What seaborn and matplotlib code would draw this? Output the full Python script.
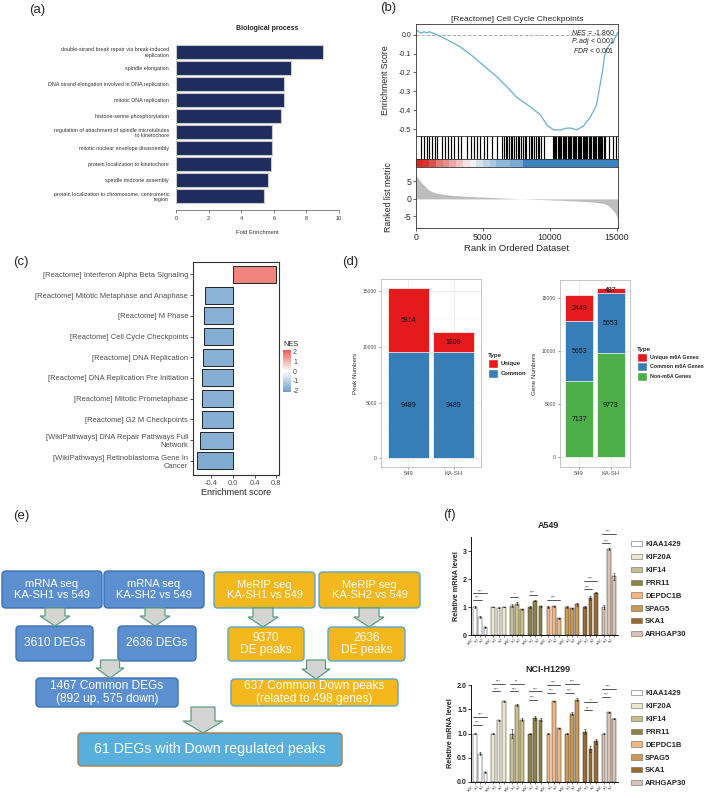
import numpy as np
import pandas as pd
import matplotlib
matplotlib.use("Agg")
import matplotlib.pyplot as plt
import seaborn as sns
from matplotlib.patches import FancyBboxPatch, Polygon, Patch
from matplotlib.colors import LinearSegmentedColormap, Normalize
from matplotlib.cm import ScalarMappable
from matplotlib.ticker import MultipleLocator, FormatStrFormatter

# ------------------------------------------------------------------ data
bp_terms = ["double-strand break repair via break-induced\nreplication",
            "spindle elongation",
            "DNA strand elongation involved in DNA replication",
            "mitotic DNA replication",
            "histone-serine phosphorylation",
            "regulation of attachment of spindle microtubules\nto kinetochore",
            "mitotic nuclear envelope disassembly",
            "protein localization to kinetochore",
            "spindle midzone assembly",
            "protein localization to chromosome, centromeric\nregion"]
bp_fold = [9.0, 7.05, 6.65, 6.6, 6.45, 5.9, 5.9, 5.85, 5.65, 5.4]

gsea_title = "[Reactome] Cell Cycle Checkpoints"
es_rank = [0, 200, 400, 600, 800, 1000, 1300, 1550, 2300, 3300, 4300, 5000, 6000, 6800,
           7500, 8500, 9300, 9800, 10300, 10800, 11300, 11600, 12000, 12500, 13000, 13300,
           13500, 13650, 13800, 13950, 14100, 14300, 14500, 14700, 14850, 15000, 15100]
es_score = [0.028, 0.016, 0.008, 0.016, 0.010, 0.016, 0.008, 0.0, -0.025, -0.064, -0.117,
            -0.16, -0.22, -0.276, -0.33, -0.38, -0.425, -0.48, -0.505, -0.505, -0.495,
            -0.495, -0.505, -0.485, -0.44, -0.40, -0.37, -0.31, -0.25, -0.19, -0.11, -0.07,
            -0.05, -0.045, -0.02, 0.0, 0.012]
hit_ranks = [350, 600, 800, 970, 1220, 1390, 1590, 1970, 2170, 2390, 2640, 2840, 3140, 3340,
             3830, 4090, 4330, 4580, 4780, 5080, 5330, 5700, 6070, 6450, 6600, 6700, 6820,
             6950, 7080, 7190, 7320, 7450, 7595, 7700, 7840, 8020, 8120, 8220, 8420, 8590,
             8700, 8840, 8950, 9090, 9200, 9340, 9590, 10210, 10300, 10410, 10500, 10580,
             10680, 10760, 10860, 10960, 11050, 11150, 11250, 11330, 11420, 11500, 11600,
             11700, 11800, 11900, 11990, 12080, 12170, 12250, 12350, 12450, 12550, 12650,
             12730, 12820, 12910, 13000, 13100, 13200, 13300, 13400, 13480, 13570, 13660,
             13750, 13850, 13940, 14040, 14140, 14440, 14690, 14950]
strip_edges = [0, 500, 1000, 1500, 2000, 2500, 3000, 3500, 4000, 4500, 5000, 5500, 6000,
               7000, 8000, 15100]
strip_vals = [1.0, 0.95, 0.8, 0.6, 0.5, 0.38, 0.25, 0.1, -0.05, -0.18, -0.3, -0.4, -0.55,
              -0.65, -1.0]
metric_rank = [0, 100, 400, 800, 1050, 1550, 2550, 4000, 5800, 7800, 9500, 10800, 12000,
               13300, 14000, 14300, 14600, 14900, 15000, 15100]
metric_val = [6.6, 6.2, 4.7, 3.1, 2.3, 1.6, 1.05, 0.67, 0.4, 0.0, -0.2, -0.4, -0.6, -0.9,
              -1.3, -1.7, -2.7, -4.1, -5.0, -6.1]
gsea_stats = [r"$\it{NES}$ = -1.860", r"$\it{P.adj}$ < 0.001", r"$\it{FDR}$ < 0.001"]

c_terms = ["[Reactome] Interferon Alpha Beta Signaling",
           "[Reactome] Mitotic Metaphase and Anaphase",
           "[Reactome] M Phase",
           "[Reactome] Cell Cycle Checkpoints",
           "[Reactome] DNA Replication",
           "[Reactome] DNA Replication Pre Initiation",
           "[Reactome] Mitotic Prometaphase",
           "[Reactome] G2 M Checkpoints",
           "[WikiPathways] DNA Repair Pathways Full\nNetwork",
           "[WikiPathways] Retinoblastoma Gene In\nCancer"]
c_score = [0.79, -0.50, -0.53, -0.53, -0.54, -0.56, -0.56, -0.57, -0.59, -0.66]
c_nes = [1.65, -1.75, -1.8, -1.86, -1.82, -1.85, -1.78, -1.83, -1.8, -1.9]

d_cells = ["549", "KA-SH"]
peak_common = [9489, 9489]
peak_unique = [5814, 1809]
gene_non = [7137, 9773]
gene_common = [5653, 5653]
gene_unique = [2449, 487]

flow_top = ["mRNA seq\nKA-SH1 vs 549", "mRNA seq\nKA-SH2 vs 549",
            "MeRIP seq\nKA-SH1 vs 549", "MeRIP seq\nKA-SH2 vs 549"]
flow_mid = ["3610 DEGs", "2636 DEGs", "9370\nDE peaks", "2636\nDE peaks"]
flow_common = ["1467 Common DEGs\n(892 up, 575 down)", "637 Common Down peaks\n(related to 498 genes)"]
flow_final = "61 DEGs with Down regulated peaks"

f_genes = ["KIAA1429", "KIF20A", "KIF14", "PRR11", "DEPDC1B", "SPAG5", "SKA1", "ARHGAP30"]
f_conds = ["shNC", "sh1", "sh2"]
a549_vals = [[1.0, 0.65, 0.28], [1.0, 0.98, 1.0], [1.05, 1.12, 0.92], [1.0, 1.23, 1.03],
             [1.0, 1.02, 0.6], [0.99, 0.95, 1.1], [1.0, 1.33, 1.51], [1.0, 3.06, 2.1]]
a549_err = [[0.02, 0.03, 0.02], [0.01, 0.01, 0.01], [0.05, 0.06, 0.01], [0.02, 0.03, 0.02],
            [0.02, 0.02, 0.02], [0.04, 0.03, 0.05], [0.02, 0.08, 0.02], [0.06, 0.03, 0.12]]
h1299_vals = [[1.0, 0.58, 0.2], [1.0, 1.27, 1.66], [1.0, 1.58, 1.28], [1.0, 1.32, 1.28],
              [1.0, 1.66, 1.11], [1.0, 1.41, 1.70], [1.04, 0.68, 0.84], [1.0, 1.44, 1.30]]
h1299_err = [[0.01, 0.03, 0.01], [0.02, 0.01, 0.01], [0.1, 0.02, 0.03], [0.01, 0.05, 0.03],
             [0.01, 0.02, 0.01], [0.02, 0.03, 0.04], [0.05, 0.07, 0.05], [0.01, 0.01, 0.01]]
a549_sig = [(0, 0, 1, 1.26, "***"), (0, 0, 2, 1.49, "***"), (2, 0, 1, 1.35, "*"),
            (3, 0, 1, 1.43, "***"), (4, 0, 2, 1.25, "***"), (6, 0, 1, 1.63, "***"),
            (6, 0, 2, 1.93, "***"), (7, 0, 1, 3.27, "***"), (7, 0, 2, 3.6, "***")]
h1299_sig = [(0, 0, 1, 1.18, "***"), (0, 0, 2, 1.34, "***"), (1, 0, 1, 1.87, "***"),
             (1, 0, 2, 2.03, "***"), (2, 0, 1, 1.87, "***"), (2, 0, 2, 2.03, "**"),
             (3, 0, 1, 1.70, "***"), (3, 0, 2, 1.87, "***"), (4, 0, 1, 1.84, "***"),
             (4, 0, 2, 2.0, "***"), (5, 0, 1, 1.84, "***"), (5, 0, 2, 2.02, "***"),
             (6, 0, 1, 1.48, "**"), (6, 0, 2, 1.64, "*"), (7, 0, 1, 1.75, "***"),
             (7, 0, 2, 1.92, "***")]

# ------------------------------------------------------------------ style
sns.set_style("ticks")
plt.rcParams['font.family'] = ['Liberation Sans', 'DejaVu Sans']
plt.rcParams['mathtext.fontset'] = 'custom'
plt.rcParams['mathtext.it'] = 'Liberation Sans:italic'
plt.rcParams['mathtext.rm'] = 'Liberation Sans'
plt.rcParams['axes.linewidth'] = 0.6
plt.rcParams['axes.unicode_minus'] = False

W, H = 709, 798
fig = plt.figure(figsize=(W / 100, H / 100), dpi=100)


def pa(x0, y0, x1, y1):
    return fig.add_axes([x0 / W, 1 - y1 / H, (x1 - x0) / W, (y1 - y0) / H])


def ftext(x, y, s, **kw):
    return fig.text(x / W, 1 - y / H, s, **kw)


for lab, (x, y) in zip(["(a)", "(b)", "(c)", "(d)", "(e)", "(f)"],
                       [(29, 10), (380, 8), (13, 262), (342, 262), (13, 516), (443, 515)]):
    ftext(x, y, lab, fontsize=9.5, ha='left', va='center')

# ------------------------------------------------------------------ (a)
ax = pa(176, 43.8, 339, 204.2)
sns.barplot(x=bp_fold, y=bp_terms, orient='h', color='#1f2c5e', edgecolor='#c8c8c8',
            linewidth=0.8, width=0.85, saturation=1, ax=ax)
ax.set_xlim(0, 10)
ax.set_ylim(9.5, -0.5)
for s in ['left', 'top', 'right']:
    ax.spines[s].set_visible(False)
ax.spines['bottom'].set_position(('outward', 4.3))
ax.spines['bottom'].set_bounds(0, 10)
ax.spines['bottom'].set_color('#555555')
ax.spines['bottom'].set_linewidth(0.5)
ax.set_xticks([0, 2, 4, 6, 8, 10])
ax.tick_params(axis='x', labelsize=4, length=2.5, width=0.5, color='#555555', pad=2,
               labelcolor='#333333')
ax.tick_params(axis='y', length=0, labelsize=3.9, pad=5, labelcolor='#333333')
ax.set_xlabel("Fold Enrichment", fontsize=4.2, labelpad=6, color='#333333')
ftext(267, 29, "Biological process", fontsize=5, fontweight='bold', ha='center',
      va='center', color='#222222')

# ------------------------------------------------------------------ (b)
frame_c = '#333333'
ax_es = pa(416, 24, 618, 136)
sns.lineplot(x=es_rank, y=es_score, sort=False, color='#6aaed6', linewidth=0.9, ax=ax_es)
ax_es.axhline(0, color='#b0b0b0', ls='--', lw=0.7, zorder=0)
ax_es.set_xlim(0, 15100)
ax_es.set_ylim(-0.537, 0.057)
ax_es.set_yticks([0, -0.1, -0.2, -0.3, -0.4, -0.5])
ax_es.yaxis.set_major_formatter(FormatStrFormatter('%.1f'))
ax_es.set_xticks([])
ax_es.tick_params(axis='y', labelsize=5, length=2, width=0.5, pad=1.5)
ax_es.set_ylabel("Enrichment Score", fontsize=6.3)
ax_es.yaxis.set_label_coords(-0.13, 0.5)
ax_es.set_title(gsea_title, fontsize=6, pad=2.5)
for i, s in enumerate(gsea_stats):
    ax_es.text(0.985, 0.925 - i * 0.08, s, transform=ax_es.transAxes, ha='right',
               va='center', fontsize=5, color='#222222')

ax_bc = pa(416, 136, 618, 159)
ax_bc.vlines(hit_ranks, 0, 1, color='black', lw=0.85)
ax_bc.set_xlim(0, 15100)
ax_bc.set_ylim(0, 1)
ax_bc.set_xticks([])
ax_bc.set_yticks([])

ax_st = pa(416, 159, 618, 167)
strip_cmap = LinearSegmentedColormap.from_list('strip', ['#3a83c0', '#f7f7f7', '#d42a22'])
ax_st.pcolormesh(strip_edges, [0, 1], [strip_vals], cmap=strip_cmap, vmin=-1, vmax=1)
ax_st.set_xlim(0, 15100)
ax_st.set_xticks([])
ax_st.set_yticks([])

ax_rk = pa(416, 167, 618, 228)
ax_rk.fill_between(metric_rank, metric_val, 0, color='#bdbdbd', lw=0)
ax_rk.set_xlim(0, 15100)
ax_rk.set_ylim(-8.3, 9.1)
ax_rk.set_yticks([5, 0, -5])
ax_rk.set_xticks([0, 5000, 10000, 15000])
ax_rk.tick_params(labelsize=6.3, length=2, width=0.5, pad=1.5)
ax_rk.set_xlabel("Rank in Ordered Dataset", fontsize=6.8, labelpad=1.5)
ax_rk.set_ylabel("Ranked list metric", fontsize=6.3)
ax_rk.yaxis.set_label_coords(-0.115, 0.5)
for a in [ax_es, ax_bc, ax_st, ax_rk]:
    for s in a.spines.values():
        s.set_color(frame_c)
        s.set_linewidth(0.6)

# ------------------------------------------------------------------ (c)
nes_cmap = LinearSegmentedColormap.from_list('nes', ['#6d9fcb', '#ffffff', '#ec5d55'])
nes_norm = Normalize(-2.2, 2.2)
ax = pa(193, 262, 279, 475)
pal = {t: nes_cmap(nes_norm(v)) for t, v in zip(c_terms, c_nes)}
sns.barplot(x=c_score, y=c_terms, hue=c_terms, palette=pal, legend=False, orient='h',
            edgecolor='#222222', linewidth=0.7, width=0.82, saturation=1, ax=ax)
ax.set_xlim(-0.727, 0.848)
ax.set_ylim(9.69, -0.6)
ax.set_xticks([-0.4, 0.0, 0.4, 0.8])
ax.set_xticklabels(["-0.4", "0.0", "0.4", "0.8"])
ax.tick_params(labelsize=5.4, length=2, width=0.6, pad=1.5, labelcolor='#4d4d4d',
               color='#333333')
ax.set_xlabel("Enrichment score", fontsize=6.5, labelpad=1)
ax.set_ylabel("")
for s in ax.spines.values():
    s.set_color('#333333')
    s.set_linewidth(0.8)
cax = pa(283, 350, 291, 392)
sm = ScalarMappable(norm=Normalize(-2.2, 2.2), cmap=nes_cmap)
cb = fig.colorbar(sm, cax=cax)
cb.set_ticks([-2, -1, 0, 1, 2])
cb.outline.set_visible(False)
cax.tick_params(labelsize=5, length=0, pad=1.5, labelcolor='#4d4d4d')
ftext(283, 345, "NES", fontsize=5.3, ha='left', va='center', color='#222222')

# ------------------------------------------------------------------ (d)
set1_red, set1_blue, set1_green = '#e41a1c', '#377eb8', '#4daf4a'


def gg_axes(a, ylim):
    a.set_xlim(-0.6, 1.6)
    a.set_ylim(*ylim)
    a.set_axisbelow(True)
    a.set_yticks([0, 5000, 10000, 15000])
    a.yaxis.set_minor_locator(MultipleLocator(2500))
    a.grid(True, which='major', color='#e6e6e6', lw=0.5)
    a.grid(True, which='minor', axis='y', color='#f0f0f0', lw=0.3)
    a.tick_params(which='major', labelsize=3.6, length=1.5, width=0.4, pad=1.5,
                  labelcolor='#4d4d4d', color='#555555')
    a.tick_params(which='minor', length=0)
    a.tick_params(axis='x', labelsize=4.2)
    for s in a.spines.values():
        s.set_color('#bdbdbd')
        s.set_linewidth(0.6)
    a.set_xlabel("")


ax1 = pa(381, 279, 481, 467)
peak_tot = [c + u for c, u in zip(peak_common, peak_unique)]
sns.barplot(x=d_cells, y=peak_tot, color=set1_red, edgecolor='white', linewidth=0.5,
            width=0.9, saturation=1, ax=ax1)
sns.barplot(x=d_cells, y=peak_common, color=set1_blue, edgecolor='white', linewidth=0.5,
            width=0.9, saturation=1, ax=ax1)
gg_axes(ax1, (-765, 16068))
ax1.set_ylabel("Peak Numbers", fontsize=4.5, color='#333333', labelpad=3)
for i in range(2):
    ax1.text(i, peak_common[i] / 2, str(peak_common[i]), ha='center', va='center',
             fontsize=5, color='#111111')
    ax1.text(i, peak_common[i] + peak_unique[i] / 2, str(peak_unique[i]), ha='center',
             va='center', fontsize=5, color='#111111')
fig.legend(handles=[Patch(facecolor=set1_red, edgecolor='white'),
                    Patch(facecolor=set1_blue, edgecolor='white')],
           labels=["Unique", "Common"], title="Type", loc='upper left',
           bbox_to_anchor=(488 / W, 1 - 353 / H), frameon=False,
           prop={'size': 4.2, 'weight': 'bold'}, title_fontproperties={'size': 4.5, 'weight': 'bold'},
           handlelength=1.7, handleheight=2.0, labelspacing=0.15, handletextpad=0.5,
           borderpad=0, borderaxespad=0, alignment='left')

ax2 = pa(560, 280, 630, 467)
g_tot3 = [a + b + c for a, b, c in zip(gene_non, gene_common, gene_unique)]
g_tot2 = [a + b for a, b in zip(gene_non, gene_common)]
sns.barplot(x=d_cells, y=g_tot3, color=set1_red, edgecolor='white', linewidth=0.5,
            width=0.9, saturation=1, ax=ax2)
sns.barplot(x=d_cells, y=g_tot2, color=set1_blue, edgecolor='white', linewidth=0.5,
            width=0.9, saturation=1, ax=ax2)
sns.barplot(x=d_cells, y=gene_non, color=set1_green, edgecolor='white', linewidth=0.5,
            width=0.9, saturation=1, ax=ax2)
gg_axes(ax2, (-943, 16698))
ax2.set_ylabel("Gene Numbers", fontsize=4.5, color='#333333', labelpad=3)
for i in range(2):
    ax2.text(i, gene_non[i] / 2, str(gene_non[i]), ha='center', va='center', fontsize=5,
             color='#111111')
    ax2.text(i, gene_non[i] + gene_common[i] / 2, str(gene_common[i]), ha='center',
             va='center', fontsize=5, color='#111111')
    ax2.text(i, g_tot2[i] + gene_unique[i] / 2, str(gene_unique[i]), ha='center',
             va='center', fontsize=5, color='#111111')
fig.legend(handles=[Patch(facecolor=set1_red, edgecolor='white'),
                    Patch(facecolor=set1_blue, edgecolor='white'),
                    Patch(facecolor=set1_green, edgecolor='white')],
           labels=["Unique m6A Genes", "Common m6A Genes", "Non-m6A Genes"], title="Type",
           loc='upper left', bbox_to_anchor=(637 / W, 1 - 347 / H), frameon=False,
           prop={'size': 3.8, 'weight': 'bold'}, title_fontproperties={'size': 4.5, 'weight': 'bold'},
           handlelength=1.9, handleheight=2.2, labelspacing=0.15, handletextpad=0.5,
           borderpad=0, borderaxespad=0, alignment='left')

# ------------------------------------------------------------------ (e)
axe = pa(0, 560, 430, 775)
axe.set_xlim(0, 430)
axe.set_ylim(775, 560)
axe.axis('off')
blue_f, blue_e = '#5b8fd0', '#3f70b5'
orng_f, orng_e = '#f4b71c', '#55a7d6'
boxes = [
    (2, 571, 102, 608, flow_top[0], blue_f, blue_e, 8.0),
    (104, 571, 204, 608, flow_top[1], blue_f, blue_e, 8.0),
    (214, 572, 315, 608, flow_top[2], orng_f, orng_e, 8.0),
    (319, 572, 420, 608, flow_top[3], orng_f, orng_e, 8.0),
    (16, 626, 93, 661, flow_mid[0], blue_f, blue_e, 8.6),
    (118, 626, 196, 661, flow_mid[1], blue_f, blue_e, 8.6),
    (228, 627, 304, 661, flow_mid[2], orng_f, orng_e, 8.6),
    (328, 627, 405, 661, flow_mid[3], orng_f, orng_e, 8.6),
    (36, 678, 178, 707, flow_common[0], blue_f, blue_e, 8.6),
    (231, 679, 398, 706, flow_common[1], orng_f, orng_e, 8.6),
    (78, 733, 342, 766, flow_final, '#58afdd', '#a57b52', 10.2),
]
for x0, y0, x1, y1, txt, fc, ec, fs in boxes:
    axe.add_patch(FancyBboxPatch((x0 + 4, y0 + 4), x1 - x0 - 8, y1 - y0 - 8,
                                 boxstyle="round,pad=4", facecolor=fc, edgecolor=ec, lw=1.0))
    axe.text((x0 + x1) / 2, (y0 + y1) / 2, txt, ha='center', va='center', fontsize=fs,
             color='white', linespacing=1.05)

arrows = [(55, 608, 626, 30, 20, 10), (155, 608, 626, 30, 20, 10),
          (263, 608, 627, 30, 20, 10), (369, 608, 627, 30, 20, 10),
          (110, 660, 678, 28, 19, 10), (316, 660, 679, 28, 19, 10),
          (203, 707, 733, 40, 24, 12)]
for cx, y0, y1, hw, sw, hl in arrows:
    verts = [(cx - sw / 2, y0), (cx + sw / 2, y0), (cx + sw / 2, y1 - hl),
             (cx + hw / 2, y1 - hl), (cx, y1), (cx - hw / 2, y1 - hl), (cx - sw / 2, y1 - hl)]
    axe.add_patch(Polygon(verts, closed=True, facecolor='#d4d4d4', edgecolor='#5c9e7c', lw=0.9))

# ------------------------------------------------------------------ (f)
gene_colors = ['#ffffff', '#ece7cf', '#c9bf8c', '#8e8246', '#f4b57e', '#c99a57', '#9a6a2e',
               '#d9c3b4']


def qpcr(a, vals, errs, sigs, ylim, yticks, fmt):
    df = pd.DataFrame([(g, c, vals[i][j]) for i, g in enumerate(f_genes)
                       for j, c in enumerate(f_conds)], columns=['gene', 'cond', 'val'])
    sns.barplot(data=df, x='gene', y='val', hue='cond', order=f_genes, hue_order=f_conds,
                width=0.86, gap=0.28, edgecolor='#333333', linewidth=0.35, errorbar=None,
                legend=False, saturation=1, ax=a)
    bar_conts = list(a.containers)
    centers = []
    for j, cont in enumerate(bar_conts):
        cs = []
        for i, bar in enumerate(cont.patches):
            bar.set_facecolor(gene_colors[i])
            cs.append(bar.get_x() + bar.get_width() / 2)
        centers.append(cs)
    for j in range(len(f_conds)):
        cs = centers[j]
        a.errorbar(cs, [vals[i][j] for i in range(len(f_genes))],
                   yerr=[errs[i][j] for i in range(len(f_genes))], fmt='none',
                   ecolor='#222222', elinewidth=0.4, capsize=0.8, capthick=0.4)
        a.scatter(cs, [vals[i][j] for i in range(len(f_genes))], s=0.6, color='#222222',
                  zorder=5, lw=0)
    for g, c1, c2, y, lab in sigs:
        x1, x2 = centers[c1][g] - 0.08, centers[c2][g] + 0.08
        a.plot([x1, x2], [y, y], color='#111111', lw=0.5, clip_on=False)
        a.text((x1 + x2) / 2, y, lab, ha='center', va='bottom', fontsize=3, clip_on=False,
               linespacing=0.8)
    a.set_xlim(-0.5, 7.5)
    a.set_ylim(*ylim)
    a.set_yticks(yticks)
    a.yaxis.set_major_formatter(FormatStrFormatter(fmt))
    allc = [centers[j][i] for i in range(len(f_genes)) for j in range(3)]
    a.set_xticks(allc)
    a.set_xticklabels([f_conds[j] for i in range(len(f_genes)) for j in range(3)],
                      rotation=45, ha='right', fontsize=2.2)
    a.tick_params(axis='x', length=1.5, width=0.4, pad=0.5)
    a.tick_params(axis='y', labelsize=5, length=2, width=0.6, pad=1)
    for lbl in a.get_yticklabels():
        lbl.set_fontweight('bold')
    for s in ['top', 'right']:
        a.spines[s].set_visible(False)
    for s in ['left', 'bottom']:
        a.spines[s].set_color('#111111')
        a.spines[s].set_linewidth(0.7)
    a.set_xlabel("")
    a.set_ylabel("Relative mRNA level", fontsize=5.2, fontweight='bold', labelpad=2)


axf1 = pa(471, 537, 618, 635)
qpcr(axf1, a549_vals, a549_err, a549_sig, (0, 3.5), [0, 1, 2, 3], '%d')
ftext(548, 525, "A549", fontsize=6.5, fontweight='bold', ha='center', va='center')
axf2 = pa(471, 685, 618, 782)
qpcr(axf2, h1299_vals, h1299_err, h1299_sig, (0, 2.0), [0, 0.5, 1.0, 1.5, 2.0], '%.1f')
ftext(548, 670, "NCI-H1299", fontsize=6.5, fontweight='bold', ha='center', va='center')

leg_handles = [Patch(facecolor=c, edgecolor='#666666', lw=0.4) for c in gene_colors]
for ytop in [541, 690]:
    fig.legend(handles=leg_handles, labels=f_genes, loc='upper left',
               bbox_to_anchor=(631 / W, 1 - ytop / H), frameon=False,
               prop={'size': 5.5, 'weight': 'bold'}, handlelength=1.45, handleheight=0.7,
               labelspacing=0.72, handletextpad=0.4, borderpad=0, borderaxespad=0)

fig.savefig("out.png", dpi=100)
